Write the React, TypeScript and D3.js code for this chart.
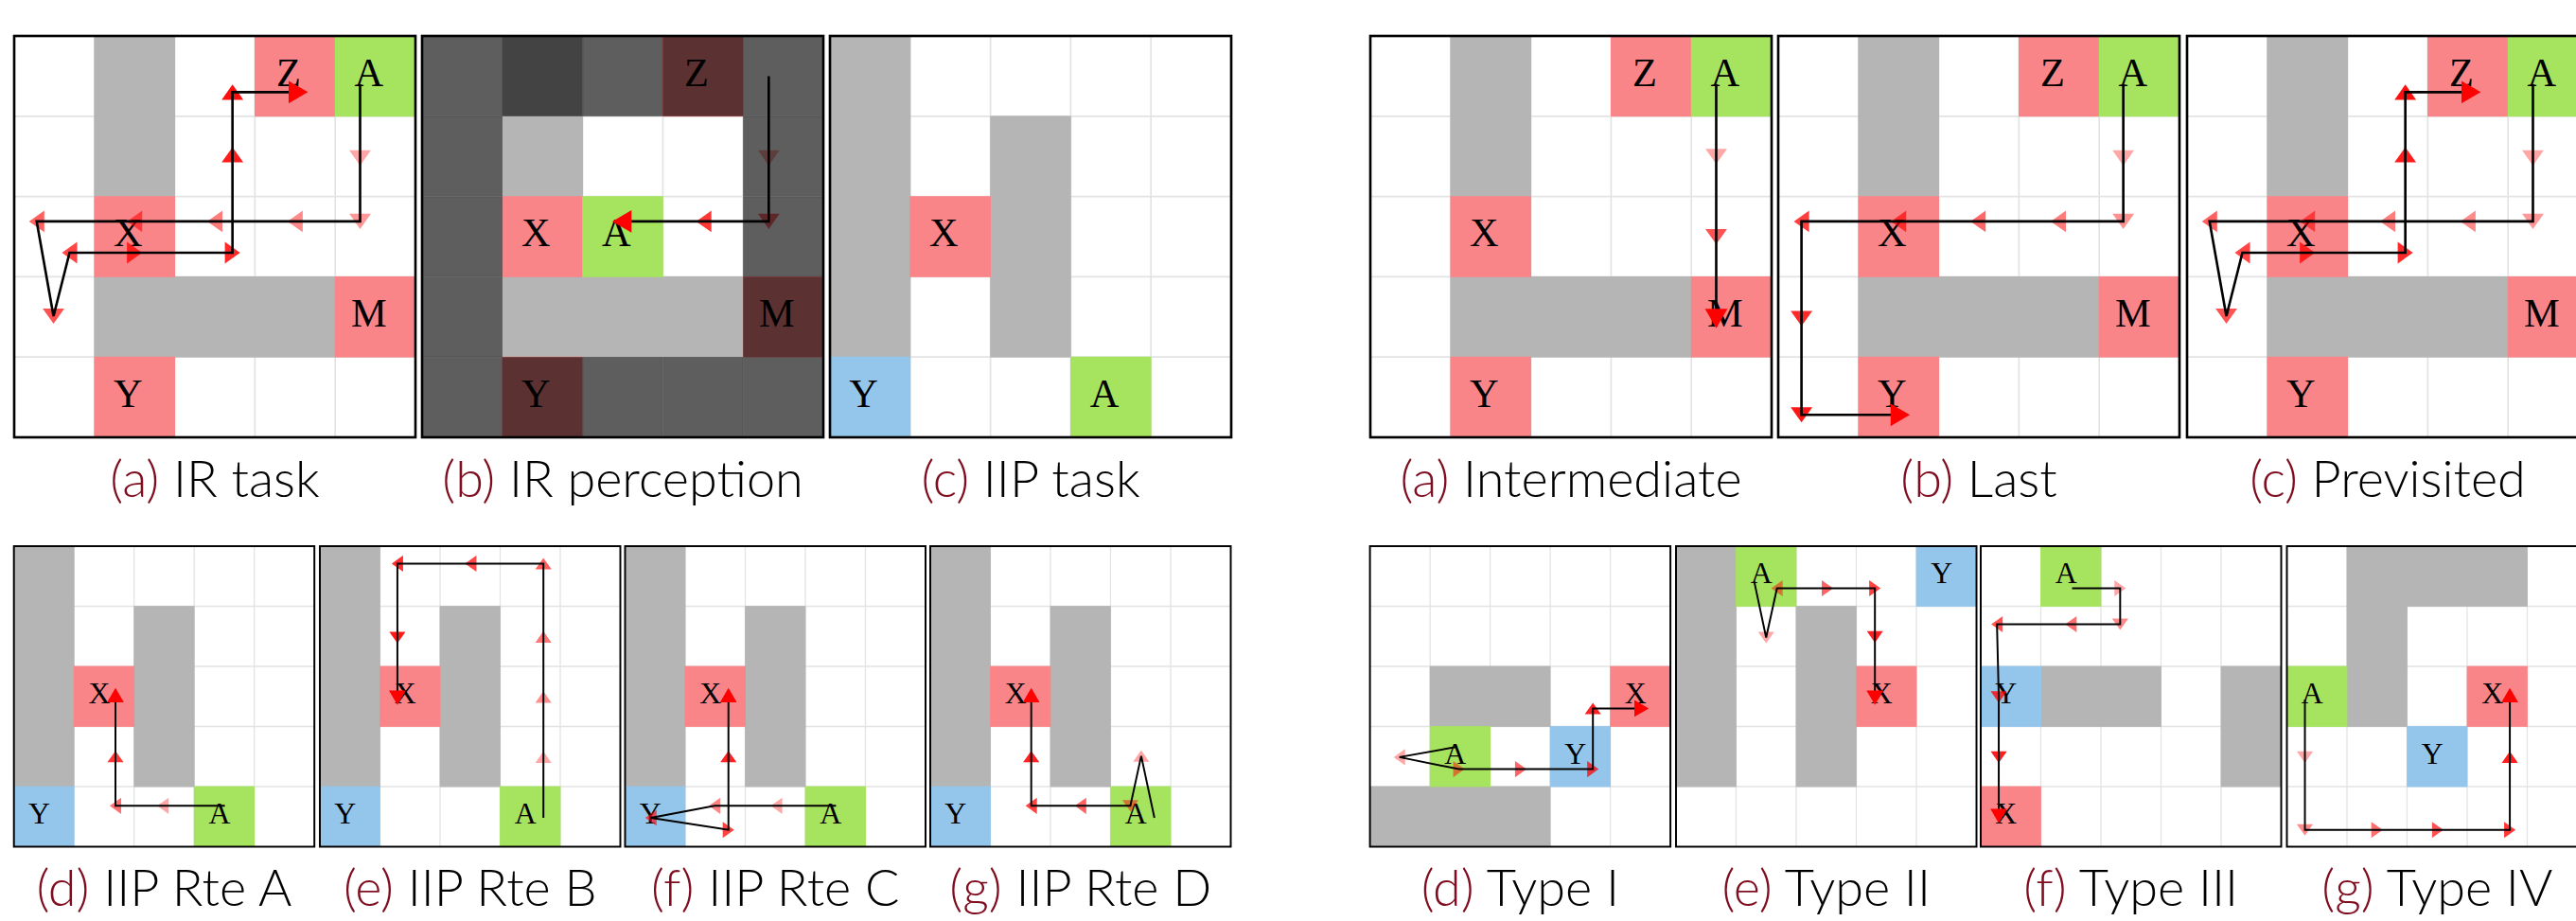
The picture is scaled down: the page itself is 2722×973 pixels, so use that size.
import React from 'react';
import * as d3 from 'd3';

// ---------- data: maps (grid cells as [col,row]) ----------
const irWalls: [number, number][] = [[1, 0], [1, 1], [1, 3], [2, 3], [3, 3]];
const irObjects: [string, number, number, string][] = [
  ['Z', 3, 0, 'goal'], ['A', 4, 0, 'agent'], ['X', 1, 2, 'goal'], ['M', 4, 3, 'goal'], ['Y', 1, 4, 'goal'],
];
const irPerceptionObjects: [string, number, number, string][] = [
  ['Z', 3, 0, 'goal'], ['X', 1, 2, 'goal'], ['A', 2, 2, 'agent'], ['M', 4, 3, 'goal'], ['Y', 1, 4, 'goal'],
];
const irVisible: [number, number][] = [[1, 1], [2, 1], [3, 1], [1, 2], [2, 2], [3, 2], [1, 3], [2, 3], [3, 3]];

const iipWalls: [number, number][] = [[0, 0], [0, 1], [0, 2], [0, 3], [2, 1], [2, 2], [2, 3]];
const iipObjects: [string, number, number, string][] = [
  ['X', 1, 2, 'goal'], ['Y', 0, 4, 'way'], ['A', 3, 4, 'agent'],
];

const type1Walls: [number, number][] = [[1, 2], [2, 2], [0, 4], [1, 4], [2, 4]];
const type1Objects: [string, number, number, string][] = [['A', 1, 3, 'agent'], ['Y', 3, 3, 'way'], ['X', 4, 2, 'goal']];
const type2Walls: [number, number][] = [[0, 0], [0, 1], [0, 2], [0, 3], [2, 1], [2, 2], [2, 3]];
const type2Objects: [string, number, number, string][] = [['A', 1, 0, 'agent'], ['Y', 4, 0, 'way'], ['X', 3, 2, 'goal']];
const type3Walls: [number, number][] = [[1, 2], [2, 2], [4, 2], [4, 3]];
const type3Objects: [string, number, number, string][] = [['A', 1, 0, 'agent'], ['Y', 0, 2, 'way'], ['X', 0, 4, 'goal']];
const type4Walls: [number, number][] = [[1, 0], [2, 0], [3, 0], [1, 1], [1, 2]];
const type4Objects: [string, number, number, string][] = [['A', 0, 2, 'agent'], ['Y', 2, 3, 'way'], ['X', 3, 2, 'goal']];

// ---------- data: trajectories [x, y, heading] in grid units ----------
type P = [number, number, string | null];
const irTaskPath: P[] = [
  [4.31, 0.6, null], [4.31, 1.52, 'd'], [4.31, 2.31, 'd'], [3.5, 2.31, 'l'], [2.5, 2.31, 'l'], [1.5, 2.31, 'l'],
  [0.28, 2.31, 'l'], [0.49, 3.49, 'd'], [0.69, 2.7, 'l'], [1.5, 2.7, 'r'], [2.72, 2.7, 'r'], [2.72, 1.48, 'u'],
  [2.72, 0.7, 'u'], [3.54, 0.7, 'r'],
];
const irPerceptionPath: P[] = [[4.32, 0.5, null], [4.32, 1.52, 'd'], [4.32, 2.31, 'd'], [3.51, 2.31, 'l'], [2.49, 2.31, 'l']];
const intermediatePath: P[] = [[4.31, 0.6, null], [4.31, 1.5, 'd'], [4.31, 2.5, 'd'], [4.31, 3.52, 'd']];
const lastPath: P[] = [
  [4.3, 0.6, null], [4.3, 1.52, 'd'], [4.3, 2.31, 'd'], [3.49, 2.31, 'l'], [2.49, 2.31, 'l'], [1.5, 2.31, 'l'],
  [0.29, 2.31, 'l'], [0.29, 3.52, 'd'], [0.29, 4.72, 'd'], [1.52, 4.72, 'r'],
];
const routeA: P[] = [[3.51, 4.32, null], [2.48, 4.32, 'l'], [1.69, 4.32, 'l'], [1.69, 3.5, 'u'], [1.69, 2.48, 'u']];
const routeB: P[] = [
  [3.72, 4.52, null], [3.72, 3.51, 'u'], [3.72, 2.51, 'u'], [3.72, 1.51, 'u'], [3.72, 0.29, 'u'],
  [2.51, 0.29, 'l'], [1.29, 0.29, 'l'], [1.29, 1.52, 'd'], [1.29, 2.52, 'd'],
];
const routeC: P[] = [
  [3.51, 4.32, null], [2.52, 4.32, 'l'], [1.49, 4.32, 'l'], [0.43, 4.52, 'l'], [1.72, 4.72, 'r'],
  [1.72, 3.5, 'u'], [1.72, 2.48, 'u'],
];
const routeD: P[] = [
  [3.73, 4.52, null], [3.51, 3.49, 'u'], [3.33, 4.32, 'd'], [2.5, 4.32, 'l'], [1.68, 4.32, 'l'],
  [1.68, 3.5, 'u'], [1.68, 2.48, 'u'],
];
const type1Path: P[] = [
  [1.45, 3.34, null], [0.49, 3.51, 'l'], [1.48, 3.71, 'r'], [2.51, 3.71, 'r'], [3.71, 3.71, 'r'],
  [3.71, 2.7, 'u'], [4.52, 2.7, 'r'],
];
const type2Path: P[] = [
  [1.3, 0.58, null], [1.5, 1.52, 'd'], [1.68, 0.7, 'l'], [2.52, 0.7, 'r'], [3.31, 0.7, 'r'],
  [3.31, 1.51, 'd'], [3.31, 2.52, 'd'],
];
const type3Path: P[] = [
  [1.52, 0.7, null], [2.32, 0.7, 'r'], [2.32, 1.3, 'd'], [1.5, 1.3, 'l'], [0.27, 1.3, 'l'],
  [0.3, 2.51, 'd'], [0.3, 3.51, 'd'], [0.3, 4.49, 'd'],
];
const type4Path: P[] = [
  [0.3, 2.55, null], [0.3, 3.51, 'd'], [0.3, 4.72, 'd'], [1.5, 4.72, 'r'], [2.51, 4.72, 'r'],
  [3.71, 4.72, 'r'], [3.71, 3.51, 'u'], [3.71, 2.48, 'u'],
];

// ---------- captions ----------
const topTags = ['(a)', '(b)', '(c)', '(a)', '(b)', '(c)'];
const topTitles = [' IR task', ' IR perception', ' IIP task', ' Intermediate', ' Last', ' Previsited'];
const botTags = ['(d)', '(e)', '(f)', '(g)', '(d)', '(e)', '(f)', '(g)'];
const botTitles = [' IIP Rte A', ' IIP Rte B', ' IIP Rte C', ' IIP Rte D', ' Type I', ' Type II', ' Type III', ' Type IV'];

const FILL: Record<string, string> = { goal: '#fa8589', agent: '#a6e35e', way: '#94c6eb' };
const WALL = '#b5b5b5';
const GRID = '#e3e3e3';
const TAG = '#7f0c1f';
const ROT: Record<string, number> = { u: 0, r: 90, d: 180, l: 270 };

interface PanelProps {
  x: number; y: number; size: number;
  walls: [number, number][];
  objects: [string, number, number, string][];
  path?: P[];
  visible?: [number, number][];
  tag: string; title: string; captionY: number;
}

function Panel({ x, y, size, walls, objects, path, visible, tag, title, captionY }: PanelProps) {
  const sx = d3.scaleLinear().domain([0, 5]).range([x, x + size]);
  const sy = d3.scaleLinear().domain([0, 5]).range([y, y + size]);
  const cell = size / 5;
  const idx = d3.range(6);
  const line = d3.line<P>().x(d => sx(d[0])).y(d => sy(d[1]));
  const markers = path ? path.slice(1) : [];
  const n = markers.length;
  const tri = (base: number, len: number) => `M0,${-len / 2}L${base / 2},${len / 2}L${-base / 2},${len / 2}Z`;
  const normalTri = tri(0.27 * cell, 0.19 * cell);
  const finalTri = tri(0.28 * cell, 0.24 * cell);
  const allCells = d3.cross(d3.range(5), d3.range(5));
  const hidden = visible
    ? allCells.filter(([c, r]) => !visible.some(v => v[0] === c && v[1] === r))
    : [];
  const pad = 0.4;
  const cellRect = (c: number, r: number) => ({
    x: sx(c) - pad, y: sy(r) - pad, width: sx(c + 1) - sx(c) + 2 * pad, height: sy(r + 1) - sy(r) + 2 * pad,
  });
  const markerEl = (d: P, i: number) => {
    const last = i === n - 1;
    const op = n > 1 ? 0.35 + 0.65 * (i / (n - 1)) : 1;
    return (
      <path key={`m${i}`} d={last ? finalTri : normalTri}
        transform={`translate(${sx(d[0])},${sy(d[1])}) rotate(${ROT[d[2] as string]})`}
        fill="#ff0000" fillOpacity={op} />
    );
  };
  return (
    <g>
      <rect x={sx(0)} y={sy(0)} width={size} height={size} fill="#fff" />
      {idx.slice(1, 5).map(i => (
        <line key={`v${i}`} x1={sx(i)} x2={sx(i)} y1={sy(0)} y2={sy(5)} stroke={GRID} strokeWidth={cell * 0.02} />
      ))}
      {idx.slice(1, 5).map(i => (
        <line key={`h${i}`} y1={sy(i)} y2={sy(i)} x1={sx(0)} x2={sx(5)} stroke={GRID} strokeWidth={cell * 0.02} />
      ))}
      {walls.map(([c, r]) => (
        <rect key={`w${c}-${r}`} {...cellRect(c, r)} fill={WALL} />
      ))}
      {objects.map(([t, c, r, k]) => (
        <rect key={`o${t}`} {...cellRect(c, r)} fill={FILL[k]} />
      ))}
      {objects.map(([t, c, r]) => (
        <text key={`t${t}`} x={sx(c + 0.42)} y={sy(r + 0.62)} textAnchor="middle"
          fontFamily="'Liberation Serif', 'DejaVu Serif', serif" fontSize={cell * 0.5} fill="#000">{t}</text>
      ))}
      {markers.slice(0, n - 1).map((d, i) => markerEl(d, i))}
      {path && (
        <path d={line(path) || ''} fill="none" stroke="#000" strokeWidth={cell * 0.031} strokeLinejoin="miter" />
      )}
      {n > 0 && markerEl(markers[n - 1], n - 1)}
      {hidden.map(([c, r]) => (
        <rect key={`hd${c}-${r}`} x={sx(c)} y={sy(r)} width={sx(c + 1) - sx(c)} height={sy(r + 1) - sy(r)}
          fill="#000" fillOpacity={0.63} />
      ))}
      <rect x={sx(0)} y={sy(0)} width={size} height={size} fill="none" stroke="#000" strokeWidth={cell * 0.031} />
      <text x={(sx(0) + sx(5)) / 2} y={captionY} textAnchor="middle"
        fontFamily="Lato, 'Open Sans', sans-serif" fontWeight={300} fontSize={54}>
        <tspan fill={TAG}>{tag}</tspan>
        <tspan fill="#000">{title}</tspan>
      </text>
    </g>
  );
}

export default function App() {
  const W = 2722, H = 973;
  const topY = 38, topSize = 424, topCap = 525;
  const botY = 577, botSize = 317.5, botCap = 957;
  const topX = [15, 446, 877, 1448, 1879, 2311];
  const botX = [14.7, 338, 660.5, 983, 1447.6, 1771, 2093, 2416.5];

  const topPanels = [
    { walls: irWalls, objects: irObjects, path: irTaskPath },
    { walls: irWalls, objects: irPerceptionObjects, path: irPerceptionPath, visible: irVisible },
    { walls: iipWalls, objects: iipObjects },
    { walls: irWalls, objects: irObjects, path: intermediatePath },
    { walls: irWalls, objects: irObjects, path: lastPath },
    { walls: irWalls, objects: irObjects, path: irTaskPath },
  ];
  const botPanels = [
    { walls: iipWalls, objects: iipObjects, path: routeA },
    { walls: iipWalls, objects: iipObjects, path: routeB },
    { walls: iipWalls, objects: iipObjects, path: routeC },
    { walls: iipWalls, objects: iipObjects, path: routeD },
    { walls: type1Walls, objects: type1Objects, path: type1Path },
    { walls: type2Walls, objects: type2Objects, path: type2Path },
    { walls: type3Walls, objects: type3Objects, path: type3Path },
    { walls: type4Walls, objects: type4Objects, path: type4Path },
  ];

  return (
    <svg width={W} height={H} viewBox={`0 0 ${W} ${H}`}
      style={{ position: 'absolute', left: 0, top: 0, display: 'block', background: '#fff' }}>
      <rect x={0} y={0} width={W} height={H} fill="#fff" />
      {topPanels.map((p, i) => (
        <Panel key={`tp${i}`} x={topX[i]} y={topY} size={topSize} {...p}
          tag={topTags[i]} title={topTitles[i]} captionY={topCap} />
      ))}
      {botPanels.map((p, i) => (
        <Panel key={`bp${i}`} x={botX[i]} y={botY} size={botSize} {...p}
          tag={botTags[i]} title={botTitles[i]} captionY={botCap} />
      ))}
    </svg>
  );
}
